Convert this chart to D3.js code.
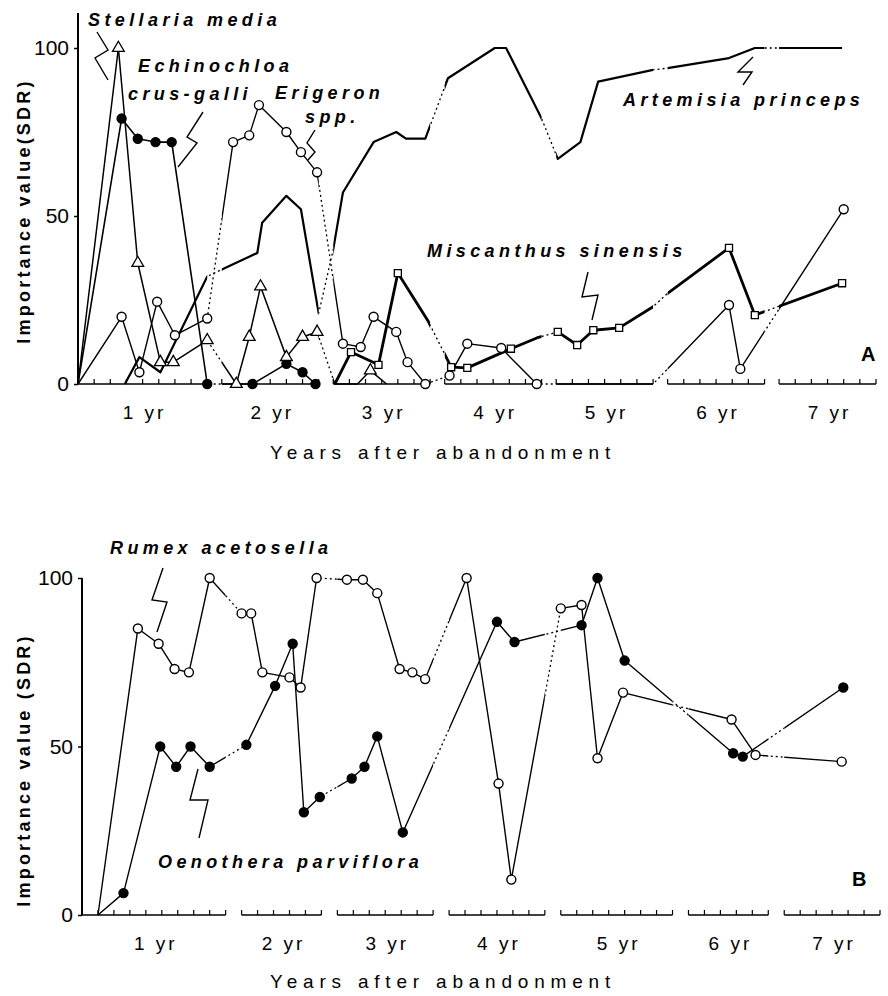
<!DOCTYPE html>
<html>
<head>
<meta charset="utf-8">
<script src="https://cdn.jsdelivr.net/npm/d3@7"></script>
<style>
  body { margin: 0; background: #fff; }
  svg text { font-family: "Liberation Sans", Arial, Helvetica, sans-serif; fill: #000; }
  .sp { font-weight: bold; font-style: italic; font-size: 18px; letter-spacing: 4.4px; }
  .ytitle { font-weight: bold; font-size: 18px; letter-spacing: 3.2px; }
  .xtitle { font-size: 19px; letter-spacing: 5.8px; }
  .yr { font-size: 19px; letter-spacing: 3px; }
  .panel { font-weight: bold; font-size: 20px; }
</style>
</head>
<body>
<svg id="chart" width="888" height="996"></svg>
<script>
// each point: [year after abandonment, month, importance value (SDR), marker? (0 = no marker)]

// ---- panel A ----
var stellaria = [
  [1,2,0,0],[1,4.5,100],[1,5.7,36],[1,7.1,6.5],[1,7.9,6.5],[1,10,13],
  [2,4.9,0],[2,5.7,14],[2,6.4,29],[2,8.0,8],[2,9.0,14],[2,9.9,15.5],
  [3,4.1,0,0],[3,5.5,0,0],[3,6.3,4],[3,7.3,0,0]
];
var echinochloa = [
  [1,2,0,0],[1,4.7,79],[1,5.7,73],[1,6.8,72],[1,7.8,72],[1,10,0],
  [2,5.9,0],[2,8.0,6],[2,9.0,3.5],[2,9.8,0]
];
var erigeron = [
  [1,2,0,0],[1,4.7,20],[1,5.8,3.5],[1,6.9,24.5],[1,8.0,14.5],[1,10,19.5],
  [2,4.7,72],[2,5.7,74],[2,6.3,83],[2,8.0,75],[2,8.9,69],[2,9.9,63],
  [3,4.6,12],[3,5.7,11],[3,6.5,20],[3,7.9,15.5],[3,8.6,6.5],[3,9.7,0],
  [4,4.3,2.5],[4,5.4,12],[4,7.5,10.7],[4,9.7,0],
  [5,10,0,0],
  [6,7.8,23.5],[6,8.5,4.5],
  [7,8.0,52]
];
var artemisia = [
  [1,4.9,0],[1,5.8,8],[1,7.1,3.5],[1,10,32],
  [2,4.4,35],[2,6.2,39],[2,6.5,48],[2,8.0,56],[2,8.9,52],[2,10,21],
  [3,4.0,40],[3,4.6,57],[3,6.5,72],[3,7.9,75],[3,8.5,73],[3,9.7,73],
  [4,4.2,91],[4,7.1,100],[4,7.8,100],[4,10,79],
  [5,4.1,67],[5,5.5,72],[5,6.6,90],[5,10,93.5],
  [6,4,94],[6,7.8,97],[6,9.4,100],[6,10,100],
  [7,4,100],[7,7.9,100]
];
var miscanthus = [
  [3,4.1,0,0],[3,5.1,9.5],[3,6.8,5.7],[3,8.0,33],[3,9.9,18.5,0],
  [4,4.4,5],[4,5.4,4.8],[4,8.1,10.5],[4,9.7,13.7,0],
  [5,4.1,15.5],[5,5.3,11.6],[5,6.3,16],[5,7.9,16.7],[5,10,23,0],
  [6,4,27,0],[6,7.8,40.5],[6,9.4,20.5],
  [7,7.9,30]
];

// ---- panel B ----
var rumex = [
  [1,2,0,0],[1,4.5,85],[1,5.8,80.5],[1,6.8,73],[1,7.7,72],[1,9.0,100],
  [2,5.0,89.5],[2,5.6,89.5],[2,6.3,72],[2,8.0,70.5],[2,8.7,67.5],[2,9.7,100],
  [3,4.6,99.5],[3,5.6,99.5],[3,6.5,95.5],[3,7.9,73],[3,8.7,72],[3,9.5,70],
  [4,5.1,100],[4,7.1,39],[4,7.9,10.5],
  [5,4.0,91],[5,5.3,92],[5,6.3,46.5],[5,7.9,66],
  [6,7.7,58],[6,9.2,47.5],
  [7,7.6,45.5]
];
var oenothera = [
  [1,2,0,0],[1,3.6,6.5],[1,5.9,50],[1,6.9,44],[1,7.8,50],[1,9.0,44],
  [2,5.3,50.5],[2,7.1,68],[2,8.2,80.5],[2,8.9,30.5],[2,9.9,35],
  [3,4.9,40.5],[3,5.7,44],[3,6.5,53],[3,8.1,24.5],
  [4,7.0,87],[4,8.1,81],
  [5,5.3,86],[5,6.3,100],[5,8.0,75.5],
  [6,7.8,48],[6,8.4,47],
  [7,7.7,67.5]
];

// sampled months shown for each year (first and last tick)
var monthsA = [[2,10],[4,10],[4,10],[4,10],[4,10],[4,10],[4,10]];
var monthsB = [[1,10],[5,10],[4,10],[4,10],[4,11],[5,10],[4,10]];
var yTicks = [0, 50, 100];

var svg = d3.select("#chart");
var defs = svg.append("defs");

function drawPanel(p) {
  var g = svg.append("g");

  // x: every year has its own stretch of months, winter gaps in between
  var offs = [], acc = 0;
  p.months.forEach(function(s) { offs.push(acc - s[0]); acc += s[1] - s[0] + p.gap; });
  var xl = d3.scaleLinear().domain([0, acc - p.gap]).range([p.x0, p.x1]);
  var x = function(yr, m) { return xl(offs[yr - 1] + m); };
  var y = d3.scaleLinear().domain([0, 100]).range([p.y0, p.y100]);

  // solid lines inside a year, dotted across the gap between years
  var solid = defs.append("clipPath").attr("id", p.id + "solid");
  var gapc = defs.append("clipPath").attr("id", p.id + "gap");
  p.months.forEach(function(s, i) {
    var a = x(i + 1, s[0]), b = x(i + 1, s[1]);
    if (i === 0) a -= 10;
    if (i === p.months.length - 1) b += 10;
    solid.append("rect").attr("x", a).attr("y", 0).attr("width", b - a).attr("height", 996);
    if (i < p.months.length - 1) {
      var n = x(i + 2, p.months[i + 1][0]);
      gapc.append("rect").attr("x", x(i + 1, s[1])).attr("y", 0)
        .attr("width", n - x(i + 1, s[1])).attr("height", 996);
    }
  });

  // y axis
  g.append("line")
    .attr("x1", p.x0).attr("x2", p.x0).attr("y1", p.axisTop).attr("y2", p.y0)
    .attr("stroke", "#000").attr("stroke-width", 2);
  var ya = g.append("g")
    .attr("transform", "translate(" + p.x0 + ",0)")
    .call(d3.axisLeft(y).tickValues(yTicks).tickSize(4).tickPadding(5));
  ya.select(".domain").remove();
  ya.attr("font-family", null).attr("font-size", null);
  ya.selectAll("text").style("font-size", "21px");
  ya.selectAll("line").attr("stroke-width", 1.5);

  g.append("text")
    .attr("class", "ytitle")
    .attr("transform", "translate(" + p.ytx + "," + p.yty + ") rotate(-90)")
    .attr("text-anchor", "middle")
    .text(p.ytitle);

  // x axis: one bracket per year
  p.months.forEach(function(s, i) {
    var a = x(i + 1, s[0]), b = x(i + 1, s[1]);
    g.append("line")
      .attr("x1", a).attr("x2", b).attr("y1", p.y0).attr("y2", p.y0)
      .attr("stroke", "#000").attr("stroke-width", 1.6);
    g.selectAll(null).data(d3.range(s[0], s[1] + 1)).enter()
      .append("line")
        .attr("x1", function(m) { return x(i + 1, m); })
        .attr("x2", function(m) { return x(i + 1, m); })
        .attr("y1", p.y0).attr("y2", p.y0 - 5)
        .attr("stroke", "#000").attr("stroke-width", 1.2);
    g.append("text")
      .attr("class", "yr")
      .attr("x", (a + b) / 2 + 2).attr("y", p.y0 + 35)
      .attr("text-anchor", "middle")
      .text((i + 1) + " yr");
  });
  g.append("text")
    .attr("class", "xtitle")
    .attr("x", 443).attr("y", p.y0 + p.xtdy)
    .attr("text-anchor", "middle")
    .text("Years after abandonment");

  // lines
  p.series.forEach(function(s) {
    var line = d3.line()
      .x(function(d) { return x(d[0], d[1]); })
      .y(function(d) { return y(d[2]); });
    g.append("path")
      .attr("d", line(s.data))
      .attr("fill", "none").attr("stroke", "#000")
      .attr("stroke-width", s.w).attr("stroke-linejoin", "round")
      .attr("clip-path", "url(#" + p.id + "solid)");
    g.append("path")
      .attr("d", line(s.data))
      .attr("fill", "none").attr("stroke", "#000")
      .attr("stroke-width", 1.3).attr("stroke-dasharray", "2,3")
      .attr("clip-path", "url(#" + p.id + "gap)");
  });

  // markers on top
  p.series.forEach(function(s) {
    if (s.mark === "none") return;
    var pts = s.data.filter(function(d) { return d[3] !== 0; });
    var m = g.selectAll(null).data(pts).enter();
    if (s.mark === "open" || s.mark === "dot") {
      m.append("circle")
        .attr("cx", function(d) { return x(d[0], d[1]); })
        .attr("cy", function(d) { return y(d[2]); })
        .attr("r", 4.5)
        .attr("fill", s.mark === "dot" ? "#000" : "#fff")
        .attr("stroke", "#000").attr("stroke-width", 1.4);
    } else {
      var sym = d3.symbol()
        .type(s.mark === "tri" ? d3.symbolTriangle : d3.symbolSquare)
        .size(s.mark === "tri" ? 60 : 50);
      m.append("path")
        .attr("d", sym)
        .attr("transform", function(d) { return "translate(" + x(d[0], d[1]) + "," + y(d[2]) + ")"; })
        .attr("fill", "#fff").attr("stroke", "#000").attr("stroke-width", 1.3);
    }
  });

  // species names with their zigzag pointers
  p.labels.forEach(function(l) {
    g.append("text").attr("class", "sp").attr("x", l[1]).attr("y", l[2]).text(l[0]);
  });
  p.pointers.forEach(function(pt) {
    g.append("path")
      .attr("d", d3.line()(pt))
      .attr("fill", "none").attr("stroke", "#000").attr("stroke-width", 1.4);
  });
  g.append("text").attr("class", "panel")
    .attr("x", p.tag[1]).attr("y", p.tag[2]).text(p.tag[0]);
}

drawPanel({
  id: "A", months: monthsA, gap: 0.9,
  x0: 78, x1: 876, y0: 384, y100: 48, axisTop: 13,
  ytitle: "Importance value(SDR)", ytx: 30, yty: 211, xtdy: 75,
  series: [
    { data: artemisia, mark: "none", w: 2.2 },
    { data: miscanthus, mark: "sq", w: 2.8 },
    { data: erigeron, mark: "open", w: 1.4 },
    { data: echinochloa, mark: "dot", w: 1.6 },
    { data: stellaria, mark: "tri", w: 1.5 }
  ],
  labels: [
    ["Stellaria media", 88, 26],
    ["Echinochloa", 138, 72],
    ["crus-galli", 128, 100],
    ["Erigeron", 275, 99],
    ["spp.", 305, 123],
    ["Artemisia princeps", 623, 106],
    ["Miscanthus sinensis", 427, 257]
  ],
  pointers: [
    [[97,32],[108,50],[95,58],[108,80]],
    [[203,112],[187,137],[197,143],[178,167]],
    [[315,130],[307,143],[315,152],[308,160]],
    [[753,57],[738,72],[752,72],[743,85]],
    [[588,272],[582,297],[598,295],[592,320]]
  ],
  tag: ["A", 861, 361]
});

drawPanel({
  id: "B", months: monthsB, gap: 1,
  x0: 82, x1: 880, y0: 915, y100: 578, axisTop: 578,
  ytitle: "Importance value (SDR)", ytx: 30, yty: 770, xtdy: 73,
  series: [
    { data: oenothera, mark: "dot", w: 1.4 },
    { data: rumex, mark: "open", w: 1.4 }
  ],
  labels: [
    ["Rumex acetosella", 110, 554],
    ["Oenothera parviflora", 158, 868]
  ],
  pointers: [
    [[163,568],[152,600],[167,602],[157,632]],
    [[198,769],[190,800],[208,800],[199,838]]
  ],
  tag: ["B", 852, 886]
});
</script>
</body>
</html>
